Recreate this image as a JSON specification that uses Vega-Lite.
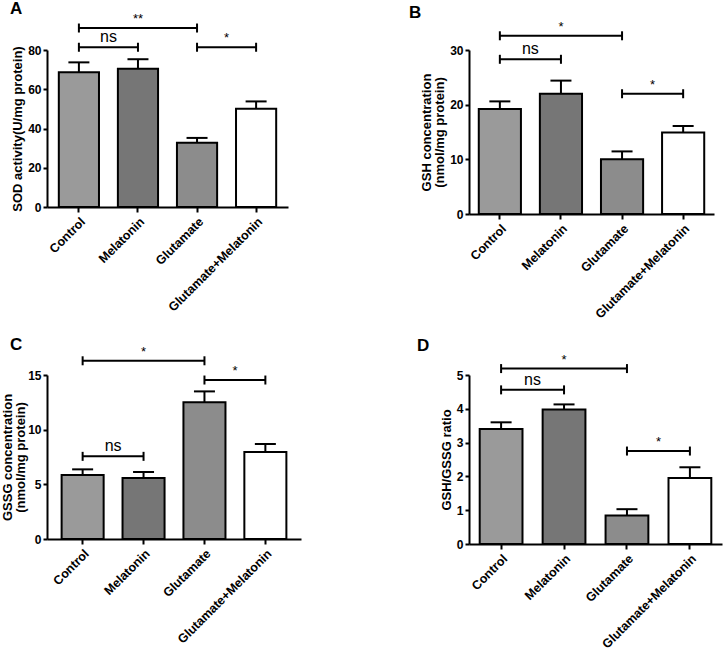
{
  "$schema": "https://vega.github.io/schema/vega-lite/v6.json",
  "padding": {"left": 1, "top": 0, "right": 5, "bottom": 5},
  "config": {
    "view": {"stroke": null},
    "font": "Liberation Sans",
    "axis": {"domainColor": "black", "domainWidth": 2, "tickColor": "black", "tickWidth": 2, "tickSize": 5, "labelColor": "black", "labelFontWeight": "bold", "labelFontSize": 12, "labelFont": "Liberation Sans", "titleColor": "black", "titleFontWeight": "bold", "titleFontSize": 13, "titleLineHeight": 13.5, "titleFont": "Liberation Sans", "grid": false, "titlePadding": 3},
    "axisY": {"tickSize": 4, "labelPadding": 2},
    "axisX": {"labelAngle": -45, "tickSize": 5, "labelPadding": 3, "labelFontSize": 12.5},
    "title": {"anchor": "start", "frame": "group", "fontSize": 17, "fontWeight": "bold", "color": "black", "font": "Liberation Sans"}
  },
  "datasets": {
    "bars": [
      {"panel": "A", "group": "Control", "value": 68.7, "upper": 73.7},
      {"panel": "A", "group": "Melatonin", "value": 70.4, "upper": 75.3},
      {"panel": "A", "group": "Glutamate", "value": 32.8, "upper": 35.2},
      {"panel": "A", "group": "Glutamate+Melatonin", "value": 50.1, "upper": 53.8},
      {"panel": "B", "group": "Control", "value": 19.2, "upper": 20.6},
      {"panel": "B", "group": "Melatonin", "value": 22.0, "upper": 24.4},
      {"panel": "B", "group": "Glutamate", "value": 10.0, "upper": 11.45},
      {"panel": "B", "group": "Glutamate+Melatonin", "value": 14.9, "upper": 16.1},
      {"panel": "C", "group": "Control", "value": 5.85, "upper": 6.37},
      {"panel": "C", "group": "Melatonin", "value": 5.58, "upper": 6.13},
      {"panel": "C", "group": "Glutamate", "value": 12.5, "upper": 13.5},
      {"panel": "C", "group": "Glutamate+Melatonin", "value": 7.96, "upper": 8.69},
      {"panel": "D", "group": "Control", "value": 3.40, "upper": 3.60},
      {"panel": "D", "group": "Melatonin", "value": 3.98, "upper": 4.13},
      {"panel": "D", "group": "Glutamate", "value": 0.84, "upper": 1.03},
      {"panel": "D", "group": "Glutamate+Melatonin", "value": 1.95, "upper": 2.27}
    ],
    "brackets": [
      {"panel": "A", "from": "Control", "to": "Melatonin", "mid": 0.5, "level": 81.4, "label": "ns"},
      {"panel": "A", "from": "Control", "to": "Glutamate", "mid": 1.0, "level": 91.2, "label": "**"},
      {"panel": "A", "from": "Glutamate", "to": "Glutamate+Melatonin", "mid": 2.5, "level": 81.4, "label": "*"},
      {"panel": "B", "from": "Control", "to": "Glutamate", "mid": 1.0, "level": 32.6, "label": "*"},
      {"panel": "B", "from": "Control", "to": "Melatonin", "mid": 0.5, "level": 28.3, "label": "ns"},
      {"panel": "B", "from": "Glutamate", "to": "Glutamate+Melatonin", "mid": 2.5, "level": 22.0, "label": "*"},
      {"panel": "C", "from": "Control", "to": "Glutamate", "mid": 1.0, "level": 16.3, "label": "*"},
      {"panel": "C", "from": "Glutamate", "to": "Glutamate+Melatonin", "mid": 2.5, "level": 14.54, "label": "*"},
      {"panel": "C", "from": "Control", "to": "Melatonin", "mid": 0.5, "level": 7.56, "label": "ns"},
      {"panel": "D", "from": "Control", "to": "Glutamate", "mid": 1.0, "level": 5.19, "label": "*"},
      {"panel": "D", "from": "Control", "to": "Melatonin", "mid": 0.5, "level": 4.56, "label": "ns"},
      {"panel": "D", "from": "Glutamate", "to": "Glutamate+Melatonin", "mid": 2.5, "level": 2.75, "label": "*"}
    ]
  },
  "columns": 2,
  "bounds": "flush",
  "spacing": {"row": 161, "column": 168},
  "concat": [
    {
      "width": 241, "height": 157,
      "title": {"text": "A", "dx": -37, "dy": 9},
      "resolve": {"scale": {"x": "independent"}, "axis": {"y": "independent"}},
      "layer": [
        {
          "data": {"name": "bars"},
          "transform": [{"filter": "datum.panel === 'A'"}],
          "mark": {"type": "bar", "stroke": "black", "strokeWidth": 2},
          "encoding": {
            "x": {"field": "group", "type": "nominal", "scale": {"domain": ["Control", "Melatonin", "Glutamate", "Glutamate+Melatonin"], "paddingInner": 0.32, "paddingOuter": 0.2}, "axis": {"title": null}},
            "y": {"field": "value", "type": "quantitative", "scale": {"domain": [0, 80], "nice": false}, "axis": {"title": "SOD activity(U/mg protein)", "values": [0, 20, 40, 60, 80]}},
            "fill": {"field": "group", "type": "nominal", "scale": {"domain": ["Control", "Melatonin", "Glutamate", "Glutamate+Melatonin"], "range": ["#9a9a9a", "#767676", "#8c8c8c", "#ffffff"]}, "legend": null}
          }
        },
        {
          "data": {"name": "bars"},
          "transform": [{"filter": "datum.panel === 'A'"}],
          "mark": {"type": "rule", "color": "black", "strokeWidth": 2},
          "encoding": {
            "x": {"field": "group", "type": "nominal", "scale": {"domain": ["Control", "Melatonin", "Glutamate", "Glutamate+Melatonin"], "paddingInner": 0.32, "paddingOuter": 0.2}, "axis": null},
            "y": {"field": "value", "type": "quantitative", "axis": null},
            "y2": {"field": "upper"}
          }
        },
        {
          "data": {"name": "bars"},
          "transform": [{"filter": "datum.panel === 'A'"}],
          "mark": {"type": "tick", "orient": "horizontal", "color": "black", "size": 21, "thickness": 2, "opacity": 1},
          "encoding": {
            "x": {"field": "group", "type": "nominal", "scale": {"domain": ["Control", "Melatonin", "Glutamate", "Glutamate+Melatonin"], "paddingInner": 0.32, "paddingOuter": 0.2}, "axis": null},
            "y": {"field": "upper", "type": "quantitative", "axis": null}
          }
        },
        {
          "data": {"name": "brackets"},
          "transform": [{"filter": "datum.panel === 'A'"}],
          "mark": {"type": "rule", "color": "black", "strokeWidth": 2},
          "encoding": {
            "x": {"field": "from", "type": "nominal", "scale": {"domain": ["Control", "Melatonin", "Glutamate", "Glutamate+Melatonin"], "paddingInner": 0.32, "paddingOuter": 0.2}, "axis": null},
            "x2": {"field": "to"},
            "y": {"field": "level", "type": "quantitative", "axis": null}
          }
        },
        {
          "data": {"name": "brackets"},
          "transform": [{"filter": "datum.panel === 'A'"}],
          "mark": {"type": "tick", "orient": "vertical", "color": "black", "size": 9, "thickness": 2, "opacity": 1},
          "encoding": {
            "x": {"field": "from", "type": "nominal", "scale": {"domain": ["Control", "Melatonin", "Glutamate", "Glutamate+Melatonin"], "paddingInner": 0.32, "paddingOuter": 0.2}, "axis": null},
            "y": {"field": "level", "type": "quantitative", "axis": null}
          }
        },
        {
          "data": {"name": "brackets"},
          "transform": [{"filter": "datum.panel === 'A'"}],
          "mark": {"type": "tick", "orient": "vertical", "color": "black", "size": 9, "thickness": 2, "opacity": 1},
          "encoding": {
            "x": {"field": "to", "type": "nominal", "scale": {"domain": ["Control", "Melatonin", "Glutamate", "Glutamate+Melatonin"], "paddingInner": 0.32, "paddingOuter": 0.2}, "axis": null},
            "y": {"field": "level", "type": "quantitative", "axis": null}
          }
        },
        {
          "data": {"name": "brackets"},
          "transform": [{"filter": "datum.panel === 'A'"}],
          "mark": {"type": "text", "baseline": "alphabetic", "dy": -5, "color": "black", "font": "Liberation Sans"},
          "encoding": {
            "x": {"field": "mid", "type": "quantitative", "scale": {"domain": [-0.54, 3.54], "nice": false, "zero": false}, "axis": null},
            "y": {"field": "level", "type": "quantitative", "axis": null},
            "text": {"field": "label"},
            "size": {"condition": {"test": "datum.label === 'ns'", "value": 16}, "value": 13}
          }
        }
      ]
    },
    {
      "width": 245, "height": 164,
      "title": {"text": "B", "dx": -60, "dy": 5},
      "resolve": {"scale": {"x": "independent"}, "axis": {"y": "independent"}},
      "layer": [
        {
          "data": {"name": "bars"},
          "transform": [{"filter": "datum.panel === 'B'"}],
          "mark": {"type": "bar", "stroke": "black", "strokeWidth": 2},
          "encoding": {
            "x": {"field": "group", "type": "nominal", "scale": {"domain": ["Control", "Melatonin", "Glutamate", "Glutamate+Melatonin"], "paddingInner": 0.31, "paddingOuter": 0.16}, "axis": {"title": null}},
            "y": {"field": "value", "type": "quantitative", "scale": {"domain": [0, 30], "nice": false}, "axis": {"title": ["GSH concentration", "(nmol/mg protein)"], "values": [0, 10, 20, 30]}},
            "fill": {"field": "group", "type": "nominal", "scale": {"domain": ["Control", "Melatonin", "Glutamate", "Glutamate+Melatonin"], "range": ["#9a9a9a", "#767676", "#8c8c8c", "#ffffff"]}, "legend": null}
          }
        },
        {
          "data": {"name": "bars"},
          "transform": [{"filter": "datum.panel === 'B'"}],
          "mark": {"type": "rule", "color": "black", "strokeWidth": 2},
          "encoding": {
            "x": {"field": "group", "type": "nominal", "scale": {"domain": ["Control", "Melatonin", "Glutamate", "Glutamate+Melatonin"], "paddingInner": 0.31, "paddingOuter": 0.16}, "axis": null},
            "y": {"field": "value", "type": "quantitative", "axis": null},
            "y2": {"field": "upper"}
          }
        },
        {
          "data": {"name": "bars"},
          "transform": [{"filter": "datum.panel === 'B'"}],
          "mark": {"type": "tick", "orient": "horizontal", "color": "black", "size": 21, "thickness": 2, "opacity": 1},
          "encoding": {
            "x": {"field": "group", "type": "nominal", "scale": {"domain": ["Control", "Melatonin", "Glutamate", "Glutamate+Melatonin"], "paddingInner": 0.31, "paddingOuter": 0.16}, "axis": null},
            "y": {"field": "upper", "type": "quantitative", "axis": null}
          }
        },
        {
          "data": {"name": "brackets"},
          "transform": [{"filter": "datum.panel === 'B'"}],
          "mark": {"type": "rule", "color": "black", "strokeWidth": 2},
          "encoding": {
            "x": {"field": "from", "type": "nominal", "scale": {"domain": ["Control", "Melatonin", "Glutamate", "Glutamate+Melatonin"], "paddingInner": 0.31, "paddingOuter": 0.16}, "axis": null},
            "x2": {"field": "to"},
            "y": {"field": "level", "type": "quantitative", "axis": null}
          }
        },
        {
          "data": {"name": "brackets"},
          "transform": [{"filter": "datum.panel === 'B'"}],
          "mark": {"type": "tick", "orient": "vertical", "color": "black", "size": 9, "thickness": 2, "opacity": 1},
          "encoding": {
            "x": {"field": "from", "type": "nominal", "scale": {"domain": ["Control", "Melatonin", "Glutamate", "Glutamate+Melatonin"], "paddingInner": 0.31, "paddingOuter": 0.16}, "axis": null},
            "y": {"field": "level", "type": "quantitative", "axis": null}
          }
        },
        {
          "data": {"name": "brackets"},
          "transform": [{"filter": "datum.panel === 'B'"}],
          "mark": {"type": "tick", "orient": "vertical", "color": "black", "size": 9, "thickness": 2, "opacity": 1},
          "encoding": {
            "x": {"field": "to", "type": "nominal", "scale": {"domain": ["Control", "Melatonin", "Glutamate", "Glutamate+Melatonin"], "paddingInner": 0.31, "paddingOuter": 0.16}, "axis": null},
            "y": {"field": "level", "type": "quantitative", "axis": null}
          }
        },
        {
          "data": {"name": "brackets"},
          "transform": [{"filter": "datum.panel === 'B'"}],
          "mark": {"type": "text", "baseline": "alphabetic", "dy": -5, "color": "black", "font": "Liberation Sans"},
          "encoding": {
            "x": {"field": "mid", "type": "quantitative", "scale": {"domain": [-0.505, 3.505], "nice": false, "zero": false}, "axis": null},
            "y": {"field": "level", "type": "quantitative", "axis": null},
            "text": {"field": "label"},
            "size": {"condition": {"test": "datum.label === 'ns'", "value": 16}, "value": 13}
          }
        }
      ]
    },
    {
      "width": 254, "height": 164,
      "title": {"text": "C", "dx": -37, "dy": 12},
      "resolve": {"scale": {"x": "independent"}, "axis": {"y": "independent"}},
      "layer": [
        {
          "data": {"name": "bars"},
          "transform": [{"filter": "datum.panel === 'C'"}],
          "mark": {"type": "bar", "stroke": "black", "strokeWidth": 2},
          "encoding": {
            "x": {"field": "group", "type": "nominal", "scale": {"domain": ["Control", "Melatonin", "Glutamate", "Glutamate+Melatonin"], "paddingInner": 0.31, "paddingOuter": 0.24}, "axis": {"title": null}},
            "y": {"field": "value", "type": "quantitative", "scale": {"domain": [0, 15], "nice": false}, "axis": {"title": ["GSSG concentration", "(nmol/mg protein)"], "values": [0, 5, 10, 15], "titlePadding": 0}},
            "fill": {"field": "group", "type": "nominal", "scale": {"domain": ["Control", "Melatonin", "Glutamate", "Glutamate+Melatonin"], "range": ["#9a9a9a", "#767676", "#8c8c8c", "#ffffff"]}, "legend": null}
          }
        },
        {
          "data": {"name": "bars"},
          "transform": [{"filter": "datum.panel === 'C'"}],
          "mark": {"type": "rule", "color": "black", "strokeWidth": 2},
          "encoding": {
            "x": {"field": "group", "type": "nominal", "scale": {"domain": ["Control", "Melatonin", "Glutamate", "Glutamate+Melatonin"], "paddingInner": 0.31, "paddingOuter": 0.24}, "axis": null},
            "y": {"field": "value", "type": "quantitative", "axis": null},
            "y2": {"field": "upper"}
          }
        },
        {
          "data": {"name": "bars"},
          "transform": [{"filter": "datum.panel === 'C'"}],
          "mark": {"type": "tick", "orient": "horizontal", "color": "black", "size": 21, "thickness": 2, "opacity": 1},
          "encoding": {
            "x": {"field": "group", "type": "nominal", "scale": {"domain": ["Control", "Melatonin", "Glutamate", "Glutamate+Melatonin"], "paddingInner": 0.31, "paddingOuter": 0.24}, "axis": null},
            "y": {"field": "upper", "type": "quantitative", "axis": null}
          }
        },
        {
          "data": {"name": "brackets"},
          "transform": [{"filter": "datum.panel === 'C'"}],
          "mark": {"type": "rule", "color": "black", "strokeWidth": 2},
          "encoding": {
            "x": {"field": "from", "type": "nominal", "scale": {"domain": ["Control", "Melatonin", "Glutamate", "Glutamate+Melatonin"], "paddingInner": 0.31, "paddingOuter": 0.24}, "axis": null},
            "x2": {"field": "to"},
            "y": {"field": "level", "type": "quantitative", "axis": null}
          }
        },
        {
          "data": {"name": "brackets"},
          "transform": [{"filter": "datum.panel === 'C'"}],
          "mark": {"type": "tick", "orient": "vertical", "color": "black", "size": 9, "thickness": 2, "opacity": 1},
          "encoding": {
            "x": {"field": "from", "type": "nominal", "scale": {"domain": ["Control", "Melatonin", "Glutamate", "Glutamate+Melatonin"], "paddingInner": 0.31, "paddingOuter": 0.24}, "axis": null},
            "y": {"field": "level", "type": "quantitative", "axis": null}
          }
        },
        {
          "data": {"name": "brackets"},
          "transform": [{"filter": "datum.panel === 'C'"}],
          "mark": {"type": "tick", "orient": "vertical", "color": "black", "size": 9, "thickness": 2, "opacity": 1},
          "encoding": {
            "x": {"field": "to", "type": "nominal", "scale": {"domain": ["Control", "Melatonin", "Glutamate", "Glutamate+Melatonin"], "paddingInner": 0.31, "paddingOuter": 0.24}, "axis": null},
            "y": {"field": "level", "type": "quantitative", "axis": null}
          }
        },
        {
          "data": {"name": "brackets"},
          "transform": [{"filter": "datum.panel === 'C'"}],
          "mark": {"type": "text", "baseline": "alphabetic", "dy": -5, "color": "black", "font": "Liberation Sans"},
          "encoding": {
            "x": {"field": "mid", "type": "quantitative", "scale": {"domain": [-0.585, 3.585], "nice": false, "zero": false}, "axis": null},
            "y": {"field": "level", "type": "quantitative", "axis": null},
            "text": {"field": "label"},
            "size": {"condition": {"test": "datum.label === 'ns'", "value": 16}, "value": 13}
          }
        }
      ]
    },
    {
      "width": 253, "height": 169,
      "title": {"text": "D", "dx": -52, "dy": 5},
      "resolve": {"scale": {"x": "independent"}, "axis": {"y": "independent"}},
      "layer": [
        {
          "data": {"name": "bars"},
          "transform": [{"filter": "datum.panel === 'D'"}],
          "mark": {"type": "bar", "stroke": "black", "strokeWidth": 2},
          "encoding": {
            "x": {"field": "group", "type": "nominal", "scale": {"domain": ["Control", "Melatonin", "Glutamate", "Glutamate+Melatonin"], "paddingInner": 0.32, "paddingOuter": 0.17}, "axis": {"title": null}},
            "y": {"field": "value", "type": "quantitative", "scale": {"domain": [0, 5], "nice": false}, "axis": {"title": "GSH/GSSG ratio", "values": [0, 1, 2, 3, 4, 5]}},
            "fill": {"field": "group", "type": "nominal", "scale": {"domain": ["Control", "Melatonin", "Glutamate", "Glutamate+Melatonin"], "range": ["#9a9a9a", "#767676", "#8c8c8c", "#ffffff"]}, "legend": null}
          }
        },
        {
          "data": {"name": "bars"},
          "transform": [{"filter": "datum.panel === 'D'"}],
          "mark": {"type": "rule", "color": "black", "strokeWidth": 2},
          "encoding": {
            "x": {"field": "group", "type": "nominal", "scale": {"domain": ["Control", "Melatonin", "Glutamate", "Glutamate+Melatonin"], "paddingInner": 0.32, "paddingOuter": 0.17}, "axis": null},
            "y": {"field": "value", "type": "quantitative", "axis": null},
            "y2": {"field": "upper"}
          }
        },
        {
          "data": {"name": "bars"},
          "transform": [{"filter": "datum.panel === 'D'"}],
          "mark": {"type": "tick", "orient": "horizontal", "color": "black", "size": 21, "thickness": 2, "opacity": 1},
          "encoding": {
            "x": {"field": "group", "type": "nominal", "scale": {"domain": ["Control", "Melatonin", "Glutamate", "Glutamate+Melatonin"], "paddingInner": 0.32, "paddingOuter": 0.17}, "axis": null},
            "y": {"field": "upper", "type": "quantitative", "axis": null}
          }
        },
        {
          "data": {"name": "brackets"},
          "transform": [{"filter": "datum.panel === 'D'"}],
          "mark": {"type": "rule", "color": "black", "strokeWidth": 2},
          "encoding": {
            "x": {"field": "from", "type": "nominal", "scale": {"domain": ["Control", "Melatonin", "Glutamate", "Glutamate+Melatonin"], "paddingInner": 0.32, "paddingOuter": 0.17}, "axis": null},
            "x2": {"field": "to"},
            "y": {"field": "level", "type": "quantitative", "axis": null}
          }
        },
        {
          "data": {"name": "brackets"},
          "transform": [{"filter": "datum.panel === 'D'"}],
          "mark": {"type": "tick", "orient": "vertical", "color": "black", "size": 9, "thickness": 2, "opacity": 1},
          "encoding": {
            "x": {"field": "from", "type": "nominal", "scale": {"domain": ["Control", "Melatonin", "Glutamate", "Glutamate+Melatonin"], "paddingInner": 0.32, "paddingOuter": 0.17}, "axis": null},
            "y": {"field": "level", "type": "quantitative", "axis": null}
          }
        },
        {
          "data": {"name": "brackets"},
          "transform": [{"filter": "datum.panel === 'D'"}],
          "mark": {"type": "tick", "orient": "vertical", "color": "black", "size": 9, "thickness": 2, "opacity": 1},
          "encoding": {
            "x": {"field": "to", "type": "nominal", "scale": {"domain": ["Control", "Melatonin", "Glutamate", "Glutamate+Melatonin"], "paddingInner": 0.32, "paddingOuter": 0.17}, "axis": null},
            "y": {"field": "level", "type": "quantitative", "axis": null}
          }
        },
        {
          "data": {"name": "brackets"},
          "transform": [{"filter": "datum.panel === 'D'"}],
          "mark": {"type": "text", "baseline": "alphabetic", "dy": -5, "color": "black", "font": "Liberation Sans"},
          "encoding": {
            "x": {"field": "mid", "type": "quantitative", "scale": {"domain": [-0.51, 3.51], "nice": false, "zero": false}, "axis": null},
            "y": {"field": "level", "type": "quantitative", "axis": null},
            "text": {"field": "label"},
            "size": {"condition": {"test": "datum.label === 'ns'", "value": 16}, "value": 13}
          }
        }
      ]
    }
  ]
}
